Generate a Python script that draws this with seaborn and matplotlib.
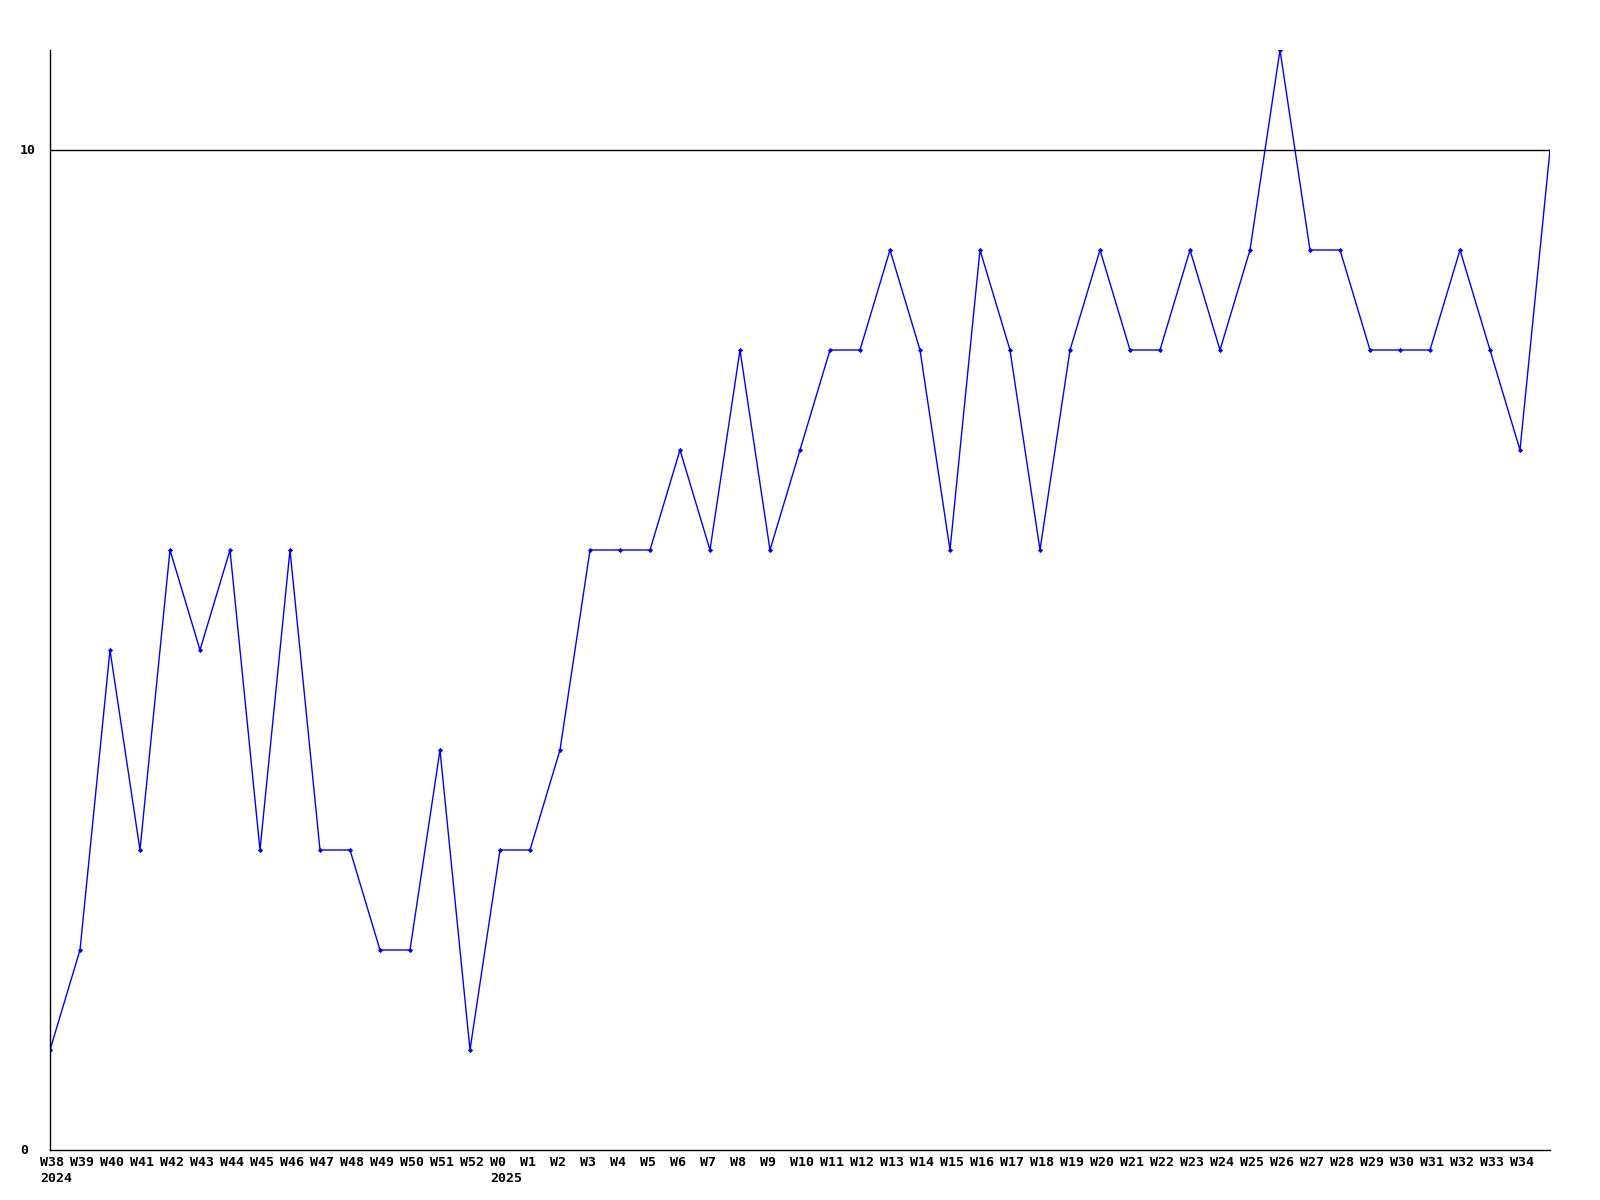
import numpy as np
import pandas as pd
import seaborn as sns
import matplotlib
matplotlib.use("Agg")
import matplotlib.pyplot as plt
from matplotlib.transforms import ScaledTranslation, blended_transform_factory

weeks = (["W%d" % w for w in range(38, 53)] + ["W%d" % w for w in range(0, 35)] + [""])
years = {"W38": "2024", "W0": "2025"}
values = [1, 2, 5, 3, 6, 5, 6, 3, 6, 3, 3, 2, 2, 4, 1,
          3, 3, 4, 6, 6, 6, 7, 6, 8, 6, 7, 8, 8, 9, 8,
          6, 9, 8, 6, 8, 9, 8, 8, 9, 8, 9, 11, 9, 9, 8,
          8, 8, 9, 8, 7, 10]

df = pd.DataFrame({"idx": np.arange(len(values)), "value": values})

sns.set_theme(style="white")
plt.rcParams['font.family'] = ['DejaVu Sans Mono', 'DejaVu Sans']

fig = plt.figure(figsize=(16, 12), dpi=100)
ax = fig.add_axes([50 / 1600, 1 - 1150 / 1200, 1500 / 1600, 1100 / 1200])

sns.lineplot(data=df, x="idx", y="value", ax=ax, color="#0000ff", linewidth=1)
sns.scatterplot(data=df.iloc[:-1], x="idx", y="value", ax=ax, color="#0000ff",
                marker="D", s=7, linewidth=0)

ax.axhline(10, color="black", linewidth=1)
ax.set_xlim(0, len(values) - 1)
ax.set_ylim(0, 11)

# tick labels, left-aligned a little before each point
ax.set_xticks([])
ax.set_yticks([])
fs = 9.5
xtr = ax.get_xaxis_transform() + ScaledTranslation(-0.10, -0.06, fig.dpi_scale_trans)
for i, w in enumerate(weeks):
    lab = w + ("\n" + years[w] if w in years else "")
    ax.text(i, 0, lab, transform=xtr, ha="left", va="top", fontsize=fs,
            fontweight="bold", linespacing=1.35, color="black")

ytr = blended_transform_factory(fig.transFigure, ax.transData)
for v in [0, 10]:
    ax.text(20 / 1600, v, str(v), transform=ytr, ha="left", va="center",
            fontsize=fs, fontweight="bold", color="black")

ax.set_xlabel("")
ax.set_ylabel("")
for s in ["top", "right"]:
    ax.spines[s].set_visible(False)
for s in ["left", "bottom"]:
    ax.spines[s].set_color("black")
    ax.spines[s].set_linewidth(1)

fig.savefig("out.png", dpi=100, facecolor="white")
